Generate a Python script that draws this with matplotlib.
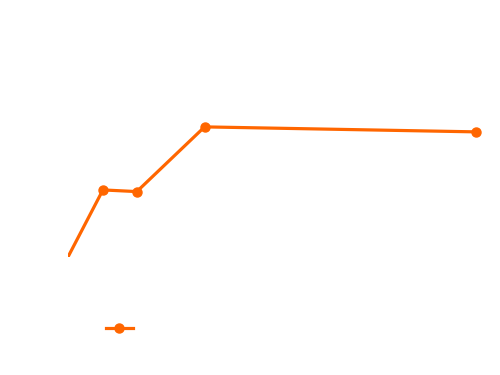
import matplotlib
matplotlib.use("Agg")
import matplotlib.pyplot as plt

x_vals = [-1, 1, 2, 4, 12]
y_vals = [-26.6, 28.3, 27.6, 54.9, 52.8]
series_label = ""
color = "#ff6600"

fig = plt.figure(figsize=(5, 3.75), dpi=100)
ax = fig.add_axes([68/500, 1-257/375, (490-68)/500, (257-20)/375])
line, = ax.plot(x_vals, y_vals, color=color, lw=2.3, marker="o", ms=6.5,
                solid_joinstyle="round")
ax.set_xlim(-0.03, 12.42)
ax.set_ylim(0, 100)
ax.axis("off")

fig.legend(handles=[line], labels=[series_label], loc="center left",
           bbox_to_anchor=(93/500, 1-329/375), frameon=False)

fig.savefig("out.png", dpi=100)
